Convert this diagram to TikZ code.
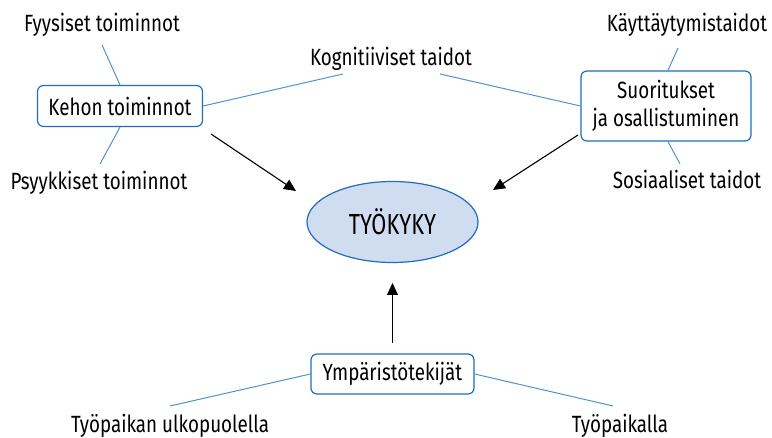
\documentclass[tikz,border=0pt]{standalone}
\usepackage{fontspec}
\setmainfont{Fira Sans}[FakeStretch=0.8]
\newfontfamily\bigfont{Fira Sans}[FakeStretch=0.75]
\usetikzlibrary{arrows.meta,shapes.geometric}
\definecolor{boxblue}{RGB}{30,110,190}
\definecolor{lineblue}{RGB}{80,145,210}
\definecolor{ellfill}{RGB}{208,220,240}
\tikzset{
  lbl/.style={inner sep=0pt, font=\fontsize{23.5}{26}\selectfont, text=black},
  rbox/.style={draw=boxblue, line width=1.2pt, rounded corners=6pt, fill=white, align=center,
    font=\fontsize{23.5}{28}\selectfont, inner sep=0pt},
  thin/.style={draw=lineblue, line width=1pt},
  arr/.style={draw=black, line width=1.1pt, -{Triangle[length=12pt,width=11pt]}},
}
\begin{document}
\begin{tikzpicture}[x=1pt,y=-1pt]
\useasboundingbox (0,0) rectangle (772,438);
% boxes
\node[rbox, minimum width=165pt, minimum height=41pt] (keh) at (120,106) {Kehon toiminnot};
\node[rbox, minimum width=170pt, minimum height=70pt] (suo) at (666,106) {Suoritukset\\ja osallistuminen};
\node[rbox, minimum width=163pt, minimum height=40pt] (ymp) at (392.5,374) {Ympäristötekijät};
\node[ellipse, draw=boxblue, line width=1.2pt, fill=ellfill, minimum width=171pt, minimum height=81pt,
  font=\bigfont\fontsize{29}{31}\selectfont] (tyo) at (392.5,222) {TYÖKYKY};
% labels
\node[lbl, anchor=base] (fyy) at (102,32) {Fyysiset toiminnot};
\node[lbl, anchor=base] (psy) at (99,190) {Psyykkiset toiminnot};
\node[lbl, anchor=base] (kog) at (391,66) {Kognitiiviset taidot};
\node[lbl, anchor=base] (kay) at (687,32) {Käyttäytymistaidot};
\node[lbl, anchor=base] (sos) at (687,189) {Sosiaaliset taidot};
\node[lbl, anchor=base] (ulk) at (170,433) {Työpaikan ulkopuolella};
\node[lbl, anchor=base] (pai) at (620,433) {Työpaikalla};
% free ends
\coordinate (fyyE) at (102,45);
\coordinate (psyE) at (100,164);
\coordinate (kogL) at (343,74);
\coordinate (kogR) at (440,74);
\coordinate (kayE) at (678,48);
\coordinate (sosE) at (680,164);
\coordinate (ulkE) at (170,406);
\coordinate (paiE) at (613,406);
\coordinate (a1s) at (211,134);
\coordinate (a1e) at (296,191);
\coordinate (a2s) at (578,135);
\coordinate (a2e) at (493,190);
\coordinate (a3s) at (392.5,343);
\coordinate (a3e) at (392.5,283);
% connectors
\draw[thin] (fyyE) -- (keh.north);
\draw[thin] (keh.south) -- (psyE);
\draw[thin] (keh.east) -- (kogL);
\draw[thin] (kogR) -- (suo.west);
\draw[thin] (kayE) -- ([xshift=2pt]suo.north);
\draw[thin] ([xshift=2pt]suo.south) -- (sosE);
\draw[thin] (ymp.west) -- (ulkE);
\draw[thin] (ymp.east) -- (paiE);
\draw[arr] (a1s) -- (a1e);
\draw[arr] (a2s) -- (a2e);
\draw[arr] (a3s) -- (a3e);
\end{tikzpicture}
\end{document}
